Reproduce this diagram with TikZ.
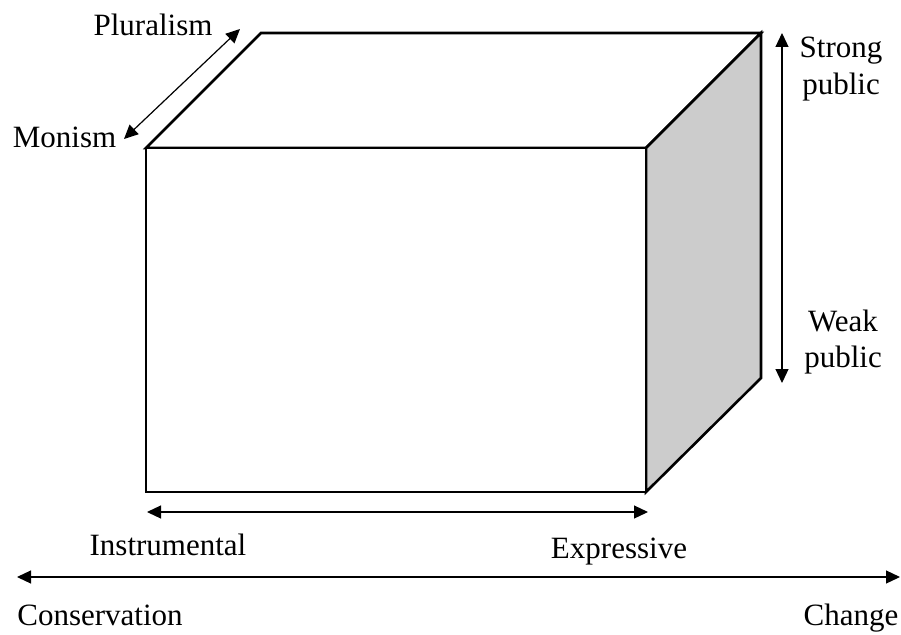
\documentclass[tikz,border=0pt]{standalone}
\usepackage{fontspec}
\setmainfont{Liberation Serif}
\usetikzlibrary{arrows.meta}
\definecolor{sidegray}{HTML}{CCCCCC}
\begin{document}
\begin{tikzpicture}[x=1pt,y=-1pt,
  face/.style={draw=black,line width=2.6pt,line join=miter},
  tip/.tip={Triangle[length=14pt,width=13pt]},
  axis/.style={draw=black,line width=1.2pt,{tip}-{tip}},
  lbl/.style={font=\fontsize{31}{36}\selectfont,inner sep=0pt,anchor=base,align=center}]
\useasboundingbox (0,0) rectangle (901,634);
% box corners
\coordinate (ftl) at (146,148);
\coordinate (ftr) at (646,148);
\coordinate (fbr) at (646,492);
\coordinate (fbl) at (146,492);
\coordinate (btl) at (261,33);
\coordinate (btr) at (761,33);
\coordinate (bbr) at (761,378);
% faces
\filldraw[face,fill=white] (ftl) -- (btl) -- (btr) -- (ftr) -- cycle;
\filldraw[face,fill=sidegray] (ftr) -- (btr) -- (bbr) -- (fbr) -- cycle;
\filldraw[face,fill=white] (ftl) -- (ftr) -- (fbr) -- (fbl) -- cycle;
% arrow end points
\coordinate (mon) at (124,139);
\coordinate (plu) at (240,29);
\coordinate (strong) at (782,33);
\coordinate (weak) at (782,383);
\coordinate (instr) at (147,512);
\coordinate (expr) at (648,512);
\coordinate (cons) at (17,577);
\coordinate (chg) at (900,577);
\draw[axis] (mon) -- (plu);
\draw[axis] (strong) -- (weak);
\draw[axis] (instr) -- (expr);
\draw[axis] (cons) -- (chg);
% labels
\node[lbl] (lplu) at (153,36) {Pluralism};
\node[lbl] (lmon) at (64.5,147) {Monism};
\node[lbl] (lstr) at (841,94) {Strong\\public};
\node[lbl] (lwk) at (843,367) {Weak\\public};
\node[lbl] (lins) at (168,555) {Instrumental};
\node[lbl] (lexp) at (619,558) {Expressive};
\node[lbl] (lcon) at (100,625) {Conservation};
\node[lbl] (lchg) at (851,625) {Change};
\end{tikzpicture}
\end{document}
